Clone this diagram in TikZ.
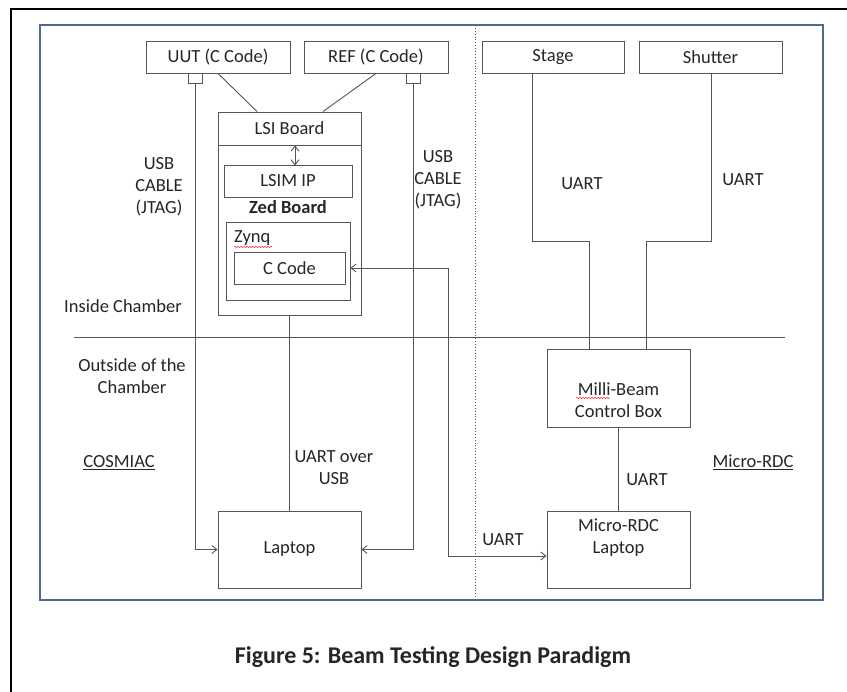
\documentclass[tikz,border=0pt]{standalone}
\usepackage{fontspec}
\setmainfont{Carlito}
\usetikzlibrary{arrows.meta,calc,decorations.pathmorphing}
\definecolor{frameblue}{HTML}{4F6A8F}
\definecolor{linegray}{HTML}{555555}
\begin{document}
\begin{tikzpicture}[x=1pt,y=-1pt,
  box/.style={draw=linegray,line width=0.9pt,fill=white,inner sep=0pt,minimum width=#1},
  txt/.style={font=\fontsize{18.5}{22}\selectfont,text=black!85,align=center,inner sep=0pt},
  conn/.style={draw=linegray,line width=0.9pt},
  arr/.style={conn,-{Straight Barb[length=5pt,width=8pt]}},
  darr/.style={conn,{Straight Barb[length=5pt,width=8pt]}-{Straight Barb[length=5pt,width=8pt]}},
  squig/.style={draw=red!80,line width=0.5pt,decorate,decoration={snake,amplitude=0.7pt,segment length=3pt}}]
\useasboundingbox (0,0) rectangle (847,692);
\fill[white] (0,0) rectangle (847,692);
% outer black frame
\draw[black,line width=2pt] (11,700) -- (11,9) -- (860,9);
% blue frame
\draw[frameblue,line width=2pt] (40,25) rectangle (823,600);
% dotted divider
\draw[linegray,line width=0.9pt,dotted] (475,25) -- (475,600);
% chamber line
\draw[conn] (74,337) -- (785,337);

% top boxes
\node[box=144,minimum height=32,txt] (uut) at (218,57) {UUT (C Code)};
\node[box=144,minimum height=32,txt] (ref) at (376,57) {REF (C Code)};
\node[box=142,minimum height=32,txt] (stage) at (553,57) {Stage};
\node[box=143,minimum height=32,txt] (shutter) at (710.5,57) {Shutter};
% small connector squares
\node[box=14,minimum height=10] (sq1) at (195,78) {};
\node[box=14,minimum height=10] (sq2) at (413,78) {};

% LSI board / Zed board
\node[box=143,minimum height=203] (lsi) at (289.5,213.5) {};
\node[box=143,minimum height=33,txt] (lsihead) at (289.5,128.5) {LSI Board};
\node[box=128,minimum height=32,txt] (lsim) at (288,181) {LSIM IP};
\node[txt,font=\fontsize{18.5}{22}\selectfont\bfseries] (zed) at (288,207) {Zed Board};
\node[box=124,minimum height=78] (zynq) at (288,261) {};
\node[txt,anchor=west] (zynqlbl) at (234,238) {Zynq};
\node[box=111,minimum height=32,txt] (ccode) at (289.5,268) {C Code};

% laptops and control box
\node[box=143,minimum height=77,txt] (laptop) at (289.5,549.5) {Laptop};
\node[box=143,minimum height=78] (milli) at (618.5,388) {};
\node[txt] (millilbl) at (618.5,400) {Milli-Beam\\Control Box};
\node[box=143,minimum height=77] (mrdc) at (618.5,549.5) {};
\node[txt] (mrdclbl) at (618.5,538) {Micro-RDC\\Laptop};

% spell-check squiggles
\draw[squig] (234,247) -- (272,247);
\draw[squig] (576,398) -- (610,398);

% connectors
\draw[conn] (uut.south) -- ($(lsi.north)+(-32.5,0)$);
\draw[conn] (ref.south) -- ($(lsi.north)+(33.5,0)$);
\draw[darr] ($(lsihead.south)+(5.5,0)$) -- ($(lsihead.south)+(5.5,20)$);
\draw[conn] (lsi.south) -- (laptop.north);
\draw[arr] (sq1.south) |- (laptop.west);
\draw[arr] (sq2.south) |- (laptop.east);
\coordinate (c1) at (448,268);
\coordinate (c2) at (448,556);
\draw[darr] (ccode.east -| zynq.east) -- (c1) -- (c2) -- (mrdc.west |- c2);
\coordinate (s1) at (532,241);
\coordinate (s2) at (589,241);
\draw[conn] (stage.south -| s1) -- (s1) -- (s2) -- (s2 |- milli.north);
\coordinate (h1) at (711,241);
\coordinate (h2) at (646,241);
\draw[conn] (shutter.south -| h1) -- (h1) -- (h2) -- (h2 |- milli.north);
\draw[conn] (milli.south) -- (mrdc.north);

% labels
\node[txt] (usbl) at (159,187) {USB\\CABLE\\(JTAG)};
\node[txt] (usbr) at (438,180) {USB\\CABLE\\(JTAG)};
\node[txt] (inside) at (123,306) {Inside Chamber};
\node[txt] (outside) at (132,376) {Outside of the\\Chamber};
\node[txt] (cosmiac) at (119,463) {\underline{COSMIAC}};
\node[txt] (uartusb) at (334,468) {UART over\\USB};
\node[txt] (u1) at (582,184) {UART};
\node[txt] (u2) at (743,180) {UART};
\node[txt] (u3) at (647,480) {UART};
\node[txt] (u4) at (503,540) {UART};
\node[txt] (micrordc) at (753,462) {\underline{Micro-RDC}};
\node[txt,font=\fontsize{24}{28}\selectfont\bfseries] (caption) at (433,657) {Figure 5: Beam Testing Design Paradigm};
\end{tikzpicture}
\end{document}
